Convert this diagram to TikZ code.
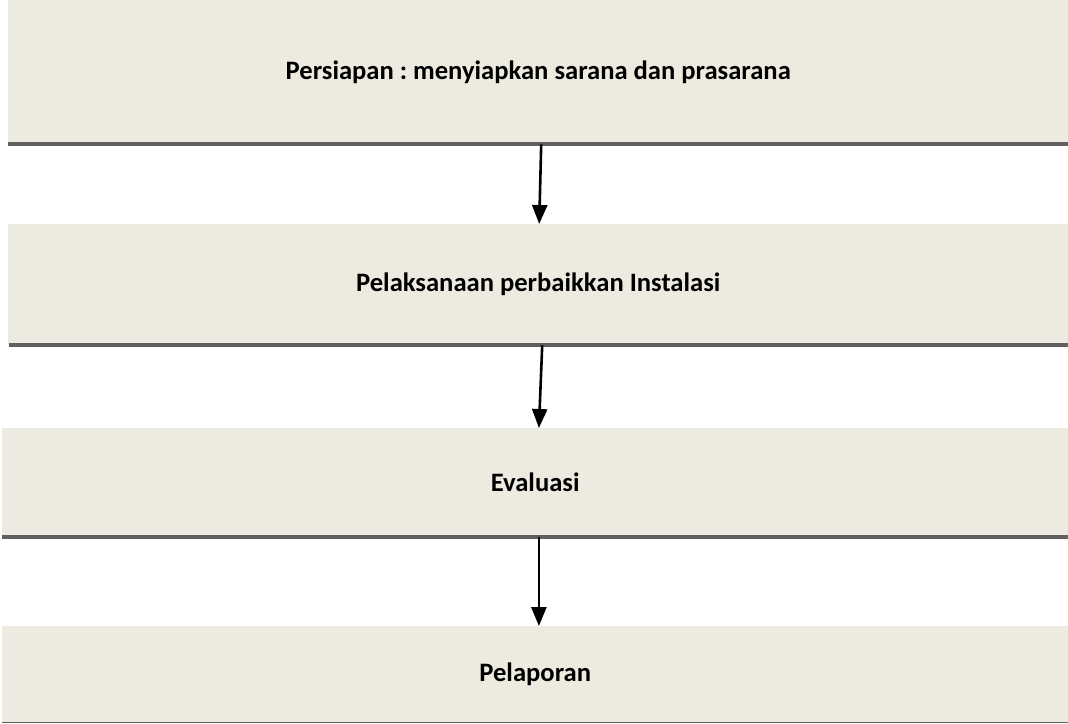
\documentclass[tikz,border=0pt]{standalone}
\usepackage{fontspec}
\setmainfont{Carlito}
\usetikzlibrary{arrows.meta}
\definecolor{stagefill}{HTML}{EDEBE0}
\definecolor{bargray}{HTML}{5F5F5F}
\frenchspacing
\begin{document}
\begin{tikzpicture}[x=1pt,y=1pt]
        \tikzstyle{every node}+=[inner sep=0pt]
        \tikzstyle{stage}=[fill=stagefill, anchor=north west, font=\fontsize{26.6}{32}\selectfont\bfseries]
        \tikzstyle{bar}=[bargray, line width=4pt]
        \tikzstyle{flow}=[black, line width=2.6pt, -{Triangle[length=19pt,width=15pt]}]
        \useasboundingbox (0,0) rectangle (1068,-723);
        \node [stage, minimum width=1060pt, minimum height=144pt] (prep) at (8,0) {Persiapan : menyiapkan sarana dan prasarana};
        \node [stage, minimum width=1060pt, minimum height=121pt] (exec) at (8,-224) {Pelaksanaan perbaikkan Instalasi};
        \node [stage, minimum width=1066pt, minimum height=109pt] (eval) at (2,-428) {Evaluasi};
        \node [stage, minimum width=1066pt, minimum height=96pt] (report) at (2,-626) {Pelaporan};
        \draw [bar] (prep.south west) -- (prep.south east);
        \draw [bar] ([xshift=1pt]exec.south west) -- (exec.south east);
        \draw [bar] (eval.south west) -- (eval.south east);
        \draw [bargray, line width=1.5pt] (report.south west) -- (report.south east);
        \draw [flow] ([xshift=3pt]prep.south) -- ([xshift=1pt]exec.north);
        \draw [flow] ([xshift=4pt]exec.south) -- ([xshift=3.7pt]eval.north);
        \draw [flow] ([xshift=3.7pt]eval.south) -- ([xshift=3.7pt]report.north);
\end{tikzpicture}
\end{document}
